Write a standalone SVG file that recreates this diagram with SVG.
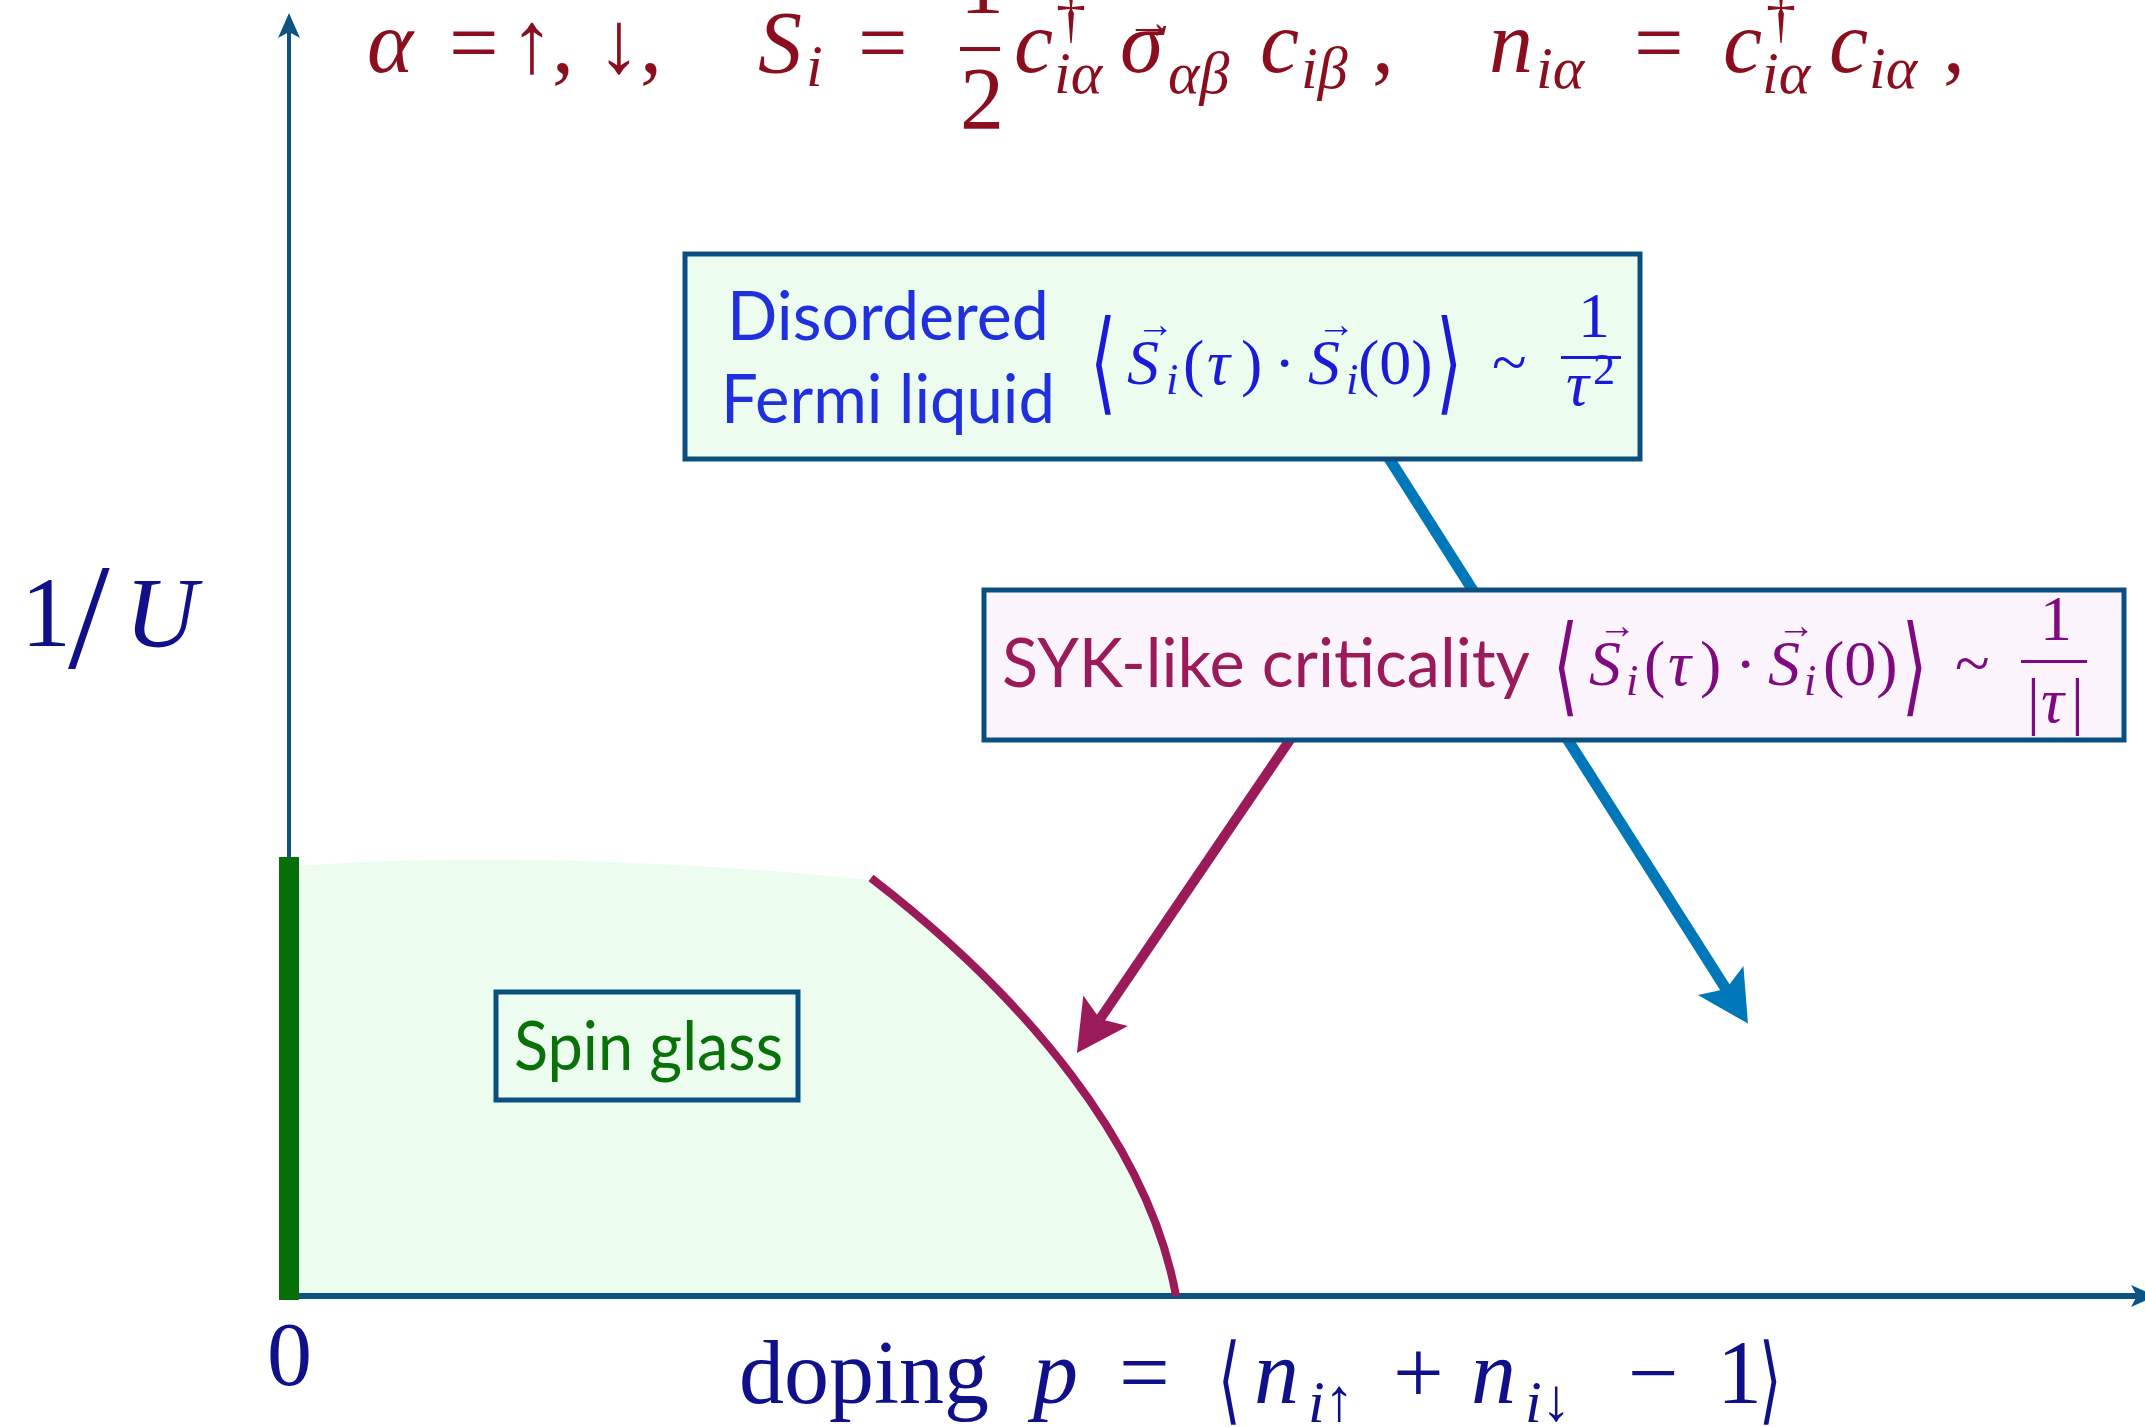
<svg xmlns="http://www.w3.org/2000/svg" width="2145" height="1427" viewBox="0 0 2145 1427">
<style>
.lab{font-family:Lato,"Open Sans","Liberation Sans",sans-serif;font-size:68px;}
.m{font-family:"Liberation Serif",serif;}
.it{font-style:italic;}
.br{font-family:"DejaVu Sans",sans-serif;font-weight:200;}
.box{stroke:#0a4f7f;stroke-width:5;}
</style>
<defs>
<marker id="headBlue" viewBox="-52 -28 54 56" refX="-41" refY="0" markerWidth="54" markerHeight="56" markerUnits="userSpaceOnUse" orient="auto"><path d="M0,0 L-51,-27 L-41,0 L-51,27 Z" fill="#0077b8"/></marker>
<marker id="headPurple" viewBox="-52 -28 54 56" refX="-41" refY="0" markerWidth="54" markerHeight="56" markerUnits="userSpaceOnUse" orient="auto"><path d="M0,0 L-51,-27 L-41,0 L-51,27 Z" fill="#9b1b5a"/></marker>
<marker id="headAxis" viewBox="-26 -12 28 24" refX="-19" refY="0" markerWidth="28" markerHeight="24" markerUnits="userSpaceOnUse" orient="auto"><path d="M0,0 L-25,-11 L-19,0 L-25,11 Z" fill="#0d5283"/></marker>
</defs>

<!-- spin glass region fill -->
<g id="region">
<path d="M298,866 C420,856 640,856 871,880 C1027,998 1149,1146 1176,1296 L298,1296 Z" fill="#ecfdf0"/>
</g>

<!-- axes -->
<g id="axes">
<line x1="289" y1="1298" x2="289" y2="32" stroke="#0d5283" stroke-width="4" marker-end="url(#headAxis)"/>
<line x1="280" y1="1296" x2="2137" y2="1296" stroke="#0d5283" stroke-width="6" marker-end="url(#headAxis)"/>
<rect x="279" y="857" width="20" height="443" fill="#076f07"/>
</g>

<!-- boundary curve -->
<g id="boundary">
<path d="M871,878 C1027,998 1149,1146 1176,1296" fill="none" stroke="#9b1b5a" stroke-width="8"/>
</g>

<!-- connectors -->
<g id="connectors">
<line x1="1385" y1="452" x2="1726" y2="989" stroke="#0077b8" stroke-width="11" marker-end="url(#headBlue)"/>
<line x1="1300" y1="725" x2="1100" y2="1019" stroke="#9b1b5a" stroke-width="10" marker-end="url(#headPurple)"/>
</g>

<!-- top formula -->
<g id="formula" fill="#8a0e1e">
<text class="m" font-size="88">
<tspan class="it" x="367" y="72">α</tspan>
<tspan x="449" y="72">=</tspan>
<tspan x="510" y="72">↑</tspan>
<tspan x="552" y="72">,</tspan>
<tspan x="597" y="72">↓</tspan>
<tspan x="640" y="72">,</tspan>
<tspan class="it" x="758" y="72">S</tspan>
<tspan x="858" y="72">=</tspan>
<tspan x="960" y="12">1</tspan>
<tspan x="960" y="128">2</tspan>
<tspan class="it" x="1014" y="72">c</tspan>
<tspan class="it" x="1120" y="72">σ</tspan>
<tspan class="it" x="1260" y="72">c</tspan>
<tspan x="1372" y="72">,</tspan>
<tspan class="it" x="1489" y="72">n</tspan>
<tspan x="1634" y="72">=</tspan>
<tspan class="it" x="1723" y="72">c</tspan>
<tspan class="it" x="1829" y="72">c</tspan>
<tspan x="1943" y="72">,</tspan>
</text>
<text class="m" font-size="60">
<tspan class="it" x="806" y="86">i</tspan>
<tspan x="1056" y="36">†</tspan>
<tspan class="it" x="1054" y="93">iα</tspan>
<tspan class="it" x="1168" y="93">αβ</tspan>
<tspan class="it" x="1301" y="88">iβ</tspan>
<tspan class="it" x="1536" y="88">iα</tspan>
<tspan x="1766" y="36">†</tspan>
<tspan class="it" x="1762" y="93">iα</tspan>
<tspan class="it" x="1869" y="88">iα</tspan>
</text>
<text class="m" font-size="48">
<tspan x="772" y="2">→</tspan>
<tspan x="1126" y="38">→</tspan>
</text>
<rect x="960" y="47" width="40" height="4"/>
</g>

<!-- Disordered Fermi liquid node -->
<g id="fermi-liquid">
<rect class="box" x="685" y="254" width="955" height="205" fill="#ecfdf0"/>
<text class="lab" fill="#2030dd" x="727" y="340" textLength="322" lengthAdjust="spacingAndGlyphs">Disordered</text>
<text class="lab" fill="#2030dd" x="721" y="423" textLength="334" lengthAdjust="spacingAndGlyphs">Fermi liquid</text>
<g fill="#1a1ad8">
<text class="br" font-size="112" transform="translate(1090,400) scale(0.6,1)">⟨</text>
<text class="br" font-size="112" transform="translate(1436,400) scale(0.6,1)">⟩</text>
<text class="m" font-size="64">
<tspan class="it" x="1127" y="384">S</tspan>
<tspan x="1183" y="384">(</tspan>
<tspan class="it" x="1207" y="384">τ</tspan>
<tspan x="1241" y="384">)</tspan>
<tspan x="1274" y="384">·</tspan>
<tspan class="it" x="1308" y="384">S</tspan>
<tspan x="1358" y="384">(0)</tspan>
<tspan x="1492" y="384">~</tspan>
<tspan x="1578" y="337">1</tspan>
<tspan class="it" x="1566" y="405">τ</tspan>
</text>
<text class="m" font-size="44">
<tspan class="it" x="1166" y="394">i</tspan>
<tspan class="it" x="1346" y="394">i</tspan>
<tspan x="1593" y="384">2</tspan>
</text>
<text class="m" font-size="38">
<tspan x="1136" y="337">→</tspan>
<tspan x="1317" y="337">→</tspan>
</text>
<rect x="1561" y="356" width="60" height="3"/>
</g>
</g>

<!-- SYK node -->
<g id="syk">
<rect class="box" x="984" y="590" width="1140" height="150" fill="#fbf4fc"/>
<text class="lab" fill="#9b1b5a" x="1002" y="687" textLength="528" lengthAdjust="spacingAndGlyphs">SYK-like criticality</text>
<g fill="#7d0a80">
<text class="br" font-size="108" transform="translate(1553,702) scale(0.6,1)">⟨</text>
<text class="br" font-size="108" transform="translate(1902,702) scale(0.6,1)">⟩</text>
<text class="m" font-size="64">
<tspan class="it" x="1589" y="685">S</tspan>
<tspan x="1644" y="685">(</tspan>
<tspan class="it" x="1668" y="685">τ</tspan>
<tspan x="1700" y="685">)</tspan>
<tspan x="1735" y="685">·</tspan>
<tspan class="it" x="1768" y="685">S</tspan>
<tspan x="1823" y="685">(0)</tspan>
<tspan x="1955" y="685">~</tspan>
<tspan x="2040" y="640">1</tspan>
<tspan x="2027" y="722">|</tspan>
<tspan class="it" x="2041" y="722">τ</tspan>
<tspan x="2071" y="722">|</tspan>
</text>
<text class="m" font-size="44">
<tspan class="it" x="1626" y="695">i</tspan>
<tspan class="it" x="1804" y="695">i</tspan>
</text>
<text class="m" font-size="38">
<tspan x="1598" y="638">→</tspan>
<tspan x="1777" y="638">→</tspan>
</text>
<rect x="2021" y="660" width="66" height="3"/>
</g>
</g>

<!-- Spin glass node -->
<g id="spin-glass">
<rect class="box" x="496" y="992" width="302" height="108" fill="#ecfdf0"/>
<text class="lab" fill="#0a700a" x="514" y="1070" textLength="269" lengthAdjust="spacingAndGlyphs">Spin glass</text>
</g>

<!-- axis labels -->
<g id="axis-labels" fill="#10108a">
<text class="m" font-size="100">
<tspan x="21" y="646">1</tspan>
<tspan class="it" x="125" y="646">U</tspan>
</text>
<text class="m" font-size="150" x="68" y="668">/</text>
<text class="m" font-size="90" x="267" y="1385">0</text>
<text class="m" font-size="90">
<tspan x="739" y="1403">doping</tspan>
<tspan class="it" x="1033" y="1403">p</tspan>
<tspan x="1119" y="1403">=</tspan>
<tspan class="it" x="1254" y="1403">n</tspan>
<tspan x="1393" y="1403">+</tspan>
<tspan class="it" x="1471" y="1403">n</tspan>
<tspan x="1628" y="1403">−</tspan>
<tspan x="1717" y="1403">1</tspan>
</text>
<text class="m" font-size="60">
<tspan class="it" x="1308" y="1422">i</tspan>
<tspan x="1324" y="1420">↑</tspan>
<tspan class="it" x="1525" y="1422">i</tspan>
<tspan x="1541" y="1420">↓</tspan>
</text>
<text class="br" font-size="96" transform="translate(1218,1412) scale(0.6,1)">⟨</text>
<text class="br" font-size="96" transform="translate(1759,1412) scale(0.6,1)">⟩</text>
</g>
</svg>
